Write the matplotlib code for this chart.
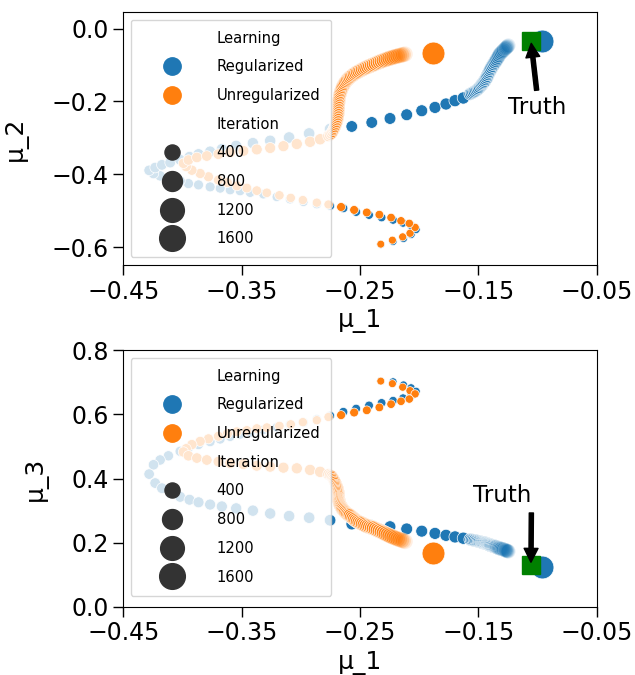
import numpy as np
import matplotlib
matplotlib.use("Agg")
import matplotlib.pyplot as plt
from matplotlib.colors import to_rgba
from matplotlib.lines import Line2D

# estimates logged every 4 iterations
step = 4

# Regularized learning trajectory
reg_mu1 = [-0.2325, -0.2221, -0.2133, -0.2069, -0.2027, -0.2069, -0.2137, -0.2221, -0.2318, -0.2424,
           -0.2533, -0.2641, -0.2753, -0.2865, -0.2978, -0.3091, -0.3203, -0.3316, -0.3428, -0.3513,
           -0.3597, -0.3681, -0.3766, -0.3864, -0.3949, -0.4019, -0.4118, -0.4188, -0.4244, -0.4281,
           -0.4230, -0.4173, -0.4103, -0.4019, -0.3940, -0.3864, -0.3766, -0.3667, -0.3546, -0.3405,
           -0.3259, -0.3099, -0.2930, -0.2753, -0.2570, -0.2401, -0.2247, -0.2106, -0.1979, -0.1867,
           -0.1774, -0.1698, -0.1628,
           -0.1571, -0.1559, -0.1546, -0.1534, -0.1521, -0.1510, -0.1499, -0.1489, -0.1478, -0.1470,
           -0.1462, -0.1454, -0.1445, -0.1438, -0.1430, -0.1424, -0.1417, -0.1410, -0.1403, -0.1396,
           -0.1388, -0.1379, -0.1370, -0.1361, -0.1352, -0.1344, -0.1335, -0.1327, -0.1318, -0.1308,
           -0.1297, -0.1287, -0.1276, -0.1269, -0.1262, -0.1255, -0.1248]
reg_mu2 = [-0.5925, -0.5848, -0.5765, -0.5655, -0.5518, -0.5408, -0.5339, -0.5256, -0.5188, -0.5119,
           -0.5036, -0.4934, -0.4871, -0.4824, -0.4761, -0.4687, -0.4623, -0.4549, -0.4505, -0.4458,
           -0.4431, -0.4384, -0.4348, -0.4293, -0.4257, -0.4183, -0.4120, -0.4045, -0.3982, -0.3894,
           -0.3817, -0.3743, -0.3679, -0.3605, -0.3523, -0.3448, -0.3377, -0.3311, -0.3220, -0.3146,
           -0.3082, -0.2991, -0.2881, -0.2760, -0.2689, -0.2579, -0.2469, -0.2367, -0.2257, -0.2166,
           -0.2072, -0.1981, -0.1907,
           -0.1797, -0.1777, -0.1756, -0.1731, -0.1706, -0.1676, -0.1646, -0.1608, -0.1569, -0.1535,
           -0.1500, -0.1466, -0.1431, -0.1387, -0.1343, -0.1295, -0.1247, -0.1202, -0.1156, -0.1111,
           -0.1065, -0.1018, -0.0971, -0.0926, -0.0881, -0.0836, -0.0790, -0.0743, -0.0696, -0.0662,
           -0.0627, -0.0593, -0.0559, -0.0537, -0.0515, -0.0492, -0.0468]
reg_mu3 = [0.704, 0.702, 0.692, 0.683, 0.672, 0.658, 0.651, 0.643, 0.636, 0.628,
           0.618, 0.608, 0.596, 0.585, 0.575, 0.568, 0.560, 0.552, 0.544, 0.538,
           0.531, 0.523, 0.515, 0.506, 0.496, 0.485, 0.471, 0.458, 0.443, 0.414,
           0.386, 0.370, 0.356, 0.343, 0.334, 0.326, 0.319, 0.313, 0.307, 0.300,
           0.291, 0.283, 0.278, 0.270, 0.258, 0.253, 0.250, 0.243, 0.236, 0.229,
           0.223, 0.218, 0.214,
           0.210, 0.209, 0.208, 0.207, 0.206, 0.205, 0.204, 0.203, 0.202, 0.201,
           0.200, 0.1995, 0.199, 0.198, 0.197, 0.196, 0.195, 0.194, 0.193, 0.192,
           0.191, 0.190, 0.189, 0.188, 0.187, 0.1855, 0.184, 0.183, 0.182, 0.181,
           0.180, 0.1785, 0.177, 0.176, 0.175, 0.174, 0.173]

# Unregularized learning trajectory
unreg_mu1 = [-0.2325, -0.2227, -0.2140, -0.2078, -0.2035, -0.2084, -0.2154, -0.2238, -0.2337, -0.2443,
             -0.2550, -0.2660, -0.2767, -0.2865, -0.2983, -0.3085, -0.3181, -0.3287, -0.3372, -0.3456,
             -0.3540, -0.3620, -0.3696, -0.3780, -0.3850, -0.3920, -0.3968, -0.3991, -0.3949, -0.3878,
             -0.3794, -0.3696, -0.3597, -0.3485, -0.3372, -0.3259, -0.3147, -0.3034, -0.2922, -0.2837,
             -0.2767, -0.2753, -0.2740, -0.2731, -0.2723, -0.2717, -0.2711, -0.2705, -0.2700, -0.2696,
             -0.2692, -0.2689, -0.2687, -0.2685, -0.2684, -0.2683, -0.2682, -0.2681, -0.2681, -0.2680,
             -0.2679, -0.2677, -0.2676, -0.2673, -0.2671, -0.2667, -0.2663, -0.2658, -0.2653, -0.2647,
             -0.2640, -0.2632, -0.2624, -0.2614, -0.2605, -0.2594, -0.2584, -0.2572, -0.2560, -0.2547,
             -0.2535, -0.2521, -0.2508, -0.2493, -0.2479, -0.2464, -0.2449, -0.2433, -0.2417, -0.2401,
             -0.2386, -0.2369, -0.2352, -0.2335, -0.2318, -0.2301, -0.2284, -0.2267, -0.2251, -0.2234,
             -0.2217, -0.2200, -0.2183, -0.2166, -0.2149, -0.2135, -0.2120]
unreg_mu2 = [-0.592, -0.581, -0.572, -0.562, -0.546, -0.535, -0.528, -0.519, -0.511, -0.505,
             -0.498, -0.490, -0.483, -0.478, -0.471, -0.465, -0.458, -0.451, -0.445, -0.438,
             -0.432, -0.423, -0.416, -0.407, -0.398, -0.389, -0.379, -0.370, -0.361, -0.354,
             -0.350, -0.345, -0.340, -0.336, -0.332, -0.328, -0.323, -0.317, -0.311, -0.304,
             -0.295, -0.2915, -0.288, -0.283, -0.278, -0.2739, -0.2697, -0.2649, -0.260, -0.2552,
             -0.2504, -0.2456, -0.2408, -0.2360, -0.2312, -0.2264, -0.2215, -0.2167, -0.2119, -0.2071,
             -0.2023, -0.1975, -0.1926, -0.1878, -0.1830, -0.1782, -0.1734, -0.1689, -0.1643, -0.1599,
             -0.1555, -0.1514, -0.1472, -0.1435, -0.1398, -0.1367, -0.1335, -0.1305, -0.1274, -0.1247,
             -0.1219, -0.1195, -0.1170, -0.1145, -0.1120, -0.1097, -0.1073, -0.1050, -0.1026, -0.1006,
             -0.0985, -0.0961, -0.0936, -0.0915, -0.0894, -0.0874, -0.0853, -0.0835, -0.0817, -0.0801,
             -0.0784, -0.0769, -0.0754, -0.0741, -0.0727, -0.0715, -0.0702]
unreg_mu3 = [0.704, 0.696, 0.685, 0.674, 0.664, 0.648, 0.641, 0.632, 0.622, 0.613,
             0.606, 0.598, 0.592, 0.582, 0.576, 0.569, 0.564, 0.559, 0.556, 0.550,
             0.546, 0.540, 0.532, 0.524, 0.516, 0.506, 0.493, 0.483, 0.471, 0.464,
             0.458, 0.453, 0.448, 0.445, 0.440, 0.437, 0.434, 0.432, 0.427, 0.421,
             0.413, 0.4105, 0.408, 0.403, 0.398, 0.3935, 0.389, 0.384, 0.379, 0.3753,
             0.3715, 0.3676, 0.3636, 0.3597, 0.3557, 0.3518, 0.3478, 0.3439, 0.3399, 0.3368,
             0.3336, 0.3305, 0.3273, 0.3241, 0.3209, 0.3178, 0.3146, 0.3115, 0.3083, 0.3052,
             0.3020, 0.2988, 0.2956, 0.2925, 0.2893, 0.2870, 0.2846, 0.2807, 0.2767, 0.2731,
             0.2694, 0.2664, 0.2634, 0.2611, 0.2587, 0.2559, 0.2530, 0.2510, 0.2489, 0.2470,
             0.2451, 0.2423, 0.2394, 0.2367, 0.2340, 0.2309, 0.2277, 0.2249, 0.2220, 0.2193,
             0.2166, 0.2143, 0.2119, 0.2098, 0.2077, 0.2059, 0.2040]

# final estimates and ground truth
final_iter = 1100
final_reg = (-0.0966, -0.034, 0.123)
final_unreg = (-0.1886, -0.067, 0.169)
truth = (-0.1057, -0.033, 0.130)

legend_iters = [400, 800, 1200, 1600]
blue, orange = '#1f77b4', '#ff7f0e'


def size_of(it):
    # marker area in pt^2, linear in iteration
    return 0.5184 * (60 + 0.42 * np.asarray(it, dtype=float))


def colors_for(color, n, n_fade):
    # the last few logged points fade out
    alpha = np.ones(n)
    alpha[n - n_fade:] = np.linspace(0.85, 0.12, n_fade)
    face = np.array([to_rgba(color, a) for a in alpha])
    edge = np.array([to_rgba('white', a) for a in alpha])
    return face, edge


reg_iter = step * np.arange(1, len(reg_mu1) + 1)
unreg_iter = step * np.arange(1, len(unreg_mu1) + 1)
reg_face, reg_edge = colors_for(blue, len(reg_mu1), 13)
unreg_face, unreg_edge = colors_for(orange, len(unreg_mu1), 11)

fig = plt.figure(figsize=(6.35, 6.75), dpi=100)
ax1 = fig.add_axes([0.194, 0.607, 0.746, 0.375])
ax2 = fig.add_axes([0.194, 0.101, 0.746, 0.380])

panels = [(ax1, reg_mu2, unreg_mu2, 1, 'μ_2'), (ax2, reg_mu3, unreg_mu3, 2, 'μ_3')]
for ax, ry, uy, k, ylab in panels:
    ax.scatter(reg_mu1, ry, s=size_of(reg_iter), c=reg_face, edgecolors=reg_edge, linewidths=0.5, zorder=2)
    ax.scatter(unreg_mu1, uy, s=size_of(unreg_iter), c=unreg_face, edgecolors=unreg_edge,
               linewidths=0.5, zorder=2)
    ax.scatter([final_reg[0]], [final_reg[k]], s=size_of(final_iter), c=blue, edgecolors='white',
               linewidths=0.5, zorder=2)
    ax.scatter([final_unreg[0]], [final_unreg[k]], s=size_of(final_iter), c=orange, edgecolors='white',
               linewidths=0.5, zorder=2)
    ax.plot([truth[0]], [truth[k]], marker='s', color='green', markersize=13, linestyle='', zorder=3)

    ax.set_xlim(-0.45, -0.05)
    ax.set_xticks([-0.45, -0.35, -0.25, -0.15, -0.05])
    ax.set_xlabel('μ_1', fontsize=18)
    ax.set_ylabel(ylab, fontsize=18, labelpad=17)
    ax.tick_params(labelsize=17, length=7, width=1.0)

    handles = [Line2D([], [], linestyle='', marker=''),
               Line2D([], [], linestyle='', marker='o', color=blue, markersize=12.5),
               Line2D([], [], linestyle='', marker='o', color=orange, markersize=12.5),
               Line2D([], [], linestyle='', marker='')]
    for it in legend_iters:
        handles.append(Line2D([], [], linestyle='', marker='o', color='#333333',
                              markersize=min(np.sqrt(size_of(it)), 18.5)))
    labels = ['Learning', 'Regularized', 'Unregularized', 'Iteration'] + [str(v) for v in legend_iters]
    leg = ax.legend(handles, labels, loc='upper left', fontsize=10.6, handlelength=4.1,
                    handletextpad=1.0, labelspacing=0.93, borderpad=0.75)
    leg.set_zorder(5)

ax1.set_ylim(-0.65, 0.045)
ax1.set_yticks([0.0, -0.2, -0.4, -0.6])
ax2.set_ylim(0.0, 0.8)
ax2.set_yticks([0.0, 0.2, 0.4, 0.6, 0.8])

arrow = dict(facecolor='black', shrink=0.05, width=3, headwidth=10, headlength=10)
ax1.annotate('Truth', xy=(truth[0], truth[1]), xytext=(-0.125, -0.234), fontsize=16.5, arrowprops=arrow)
ax2.annotate('Truth', xy=(truth[0], truth[2]), xytext=(-0.1546, 0.326), fontsize=16.5, arrowprops=arrow)

fig.savefig('out.png', dpi=100)
